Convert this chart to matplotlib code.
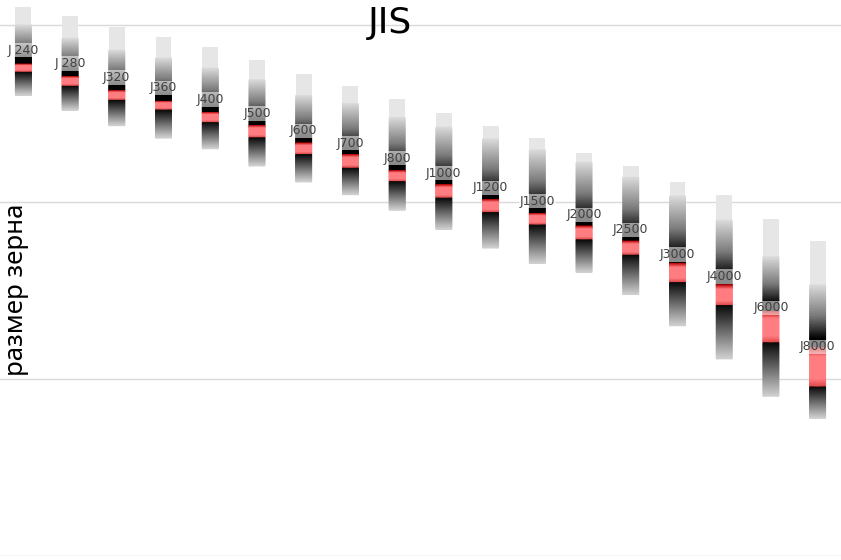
import numpy as np
import matplotlib
matplotlib.use("Agg")
import matplotlib.pyplot as plt
from matplotlib.colors import LinearSegmentedColormap

labels = ['J 240', 'J 280', 'J320', 'J360', 'J400', 'J500', 'J600', 'J700', 'J800',
          'J1000', 'J1200', 'J1500', 'J2000', 'J2500', 'J3000', 'J4000', 'J6000', 'J8000']
d_top = [127, 112, 98, 86, 75, 63, 53, 45, 38, 32, 27, 23, 19, 16, 13, 11, 8.0, 6.0]
d_fade = [100, 84, 72, 65, 57, 49, 40, 36, 30, 26.5, 22.7, 19.7, 16.8, 13.8, 10.8, 7.9, 4.9, 3.4]
d50 = [57, 48, 40, 35, 30, 25, 20, 17, 14, 11.5, 9.5, 8.0, 6.7, 5.5, 4.0, 3.0, 2.0, 1.2]
d50_tol = [3, 3, 2.5, 2, 2, 2, 1.5, 1.5, 1, 1, 0.8, 0.6, 0.6, 0.5, 0.5, 0.4, 0.4, 0.3]
d_bottom = [40, 33, 27, 23, 20, 16, 13, 11, 9.0, 7.0, 5.5, 4.5, 4.0, 3.0, 2.0, 1.3, 0.8, 0.6]

W, H = 841, 560
fig = plt.figure(figsize=(W / 100, H / 100), dpi=100)
ax = fig.add_axes([0, 4 / H, 1, 556 / H])
ax.set_yscale('log')
ax.set_ylim(0.1, 138.4)
ax.set_xlim(-0.5, len(labels) - 0.5)
for s in ax.spines.values():
    s.set_visible(False)
ax.set_xticks([])
ax.set_yticks([0.1, 1, 10, 100])
ax.yaxis.set_minor_locator(matplotlib.ticker.NullLocator())
ax.tick_params(axis='y', length=0, labelleft=False)
ax.grid(axis='y', color='#d9d9d9', linewidth=1.0)
ax.set_axisbelow(True)

grey_down = LinearSegmentedColormap.from_list('gd', [(0, '#dcdcdc'), (0.5, '#7a7a7a'), (0.86, '#000000'), (1, '#000000')])
grey_up = LinearSegmentedColormap.from_list('gu', [(0, '#0a0a0a'), (0.5, '#6e6e6e'), (1, '#d0d0d0')])
red_cm = LinearSegmentedColormap.from_list('rd', [(0, '#b80000'), (0.22, '#ff7c80'), (0.8, '#ff7c80'), (1, '#e04848')])

bw = 0.34
N = 40


def grad(xc, y0, y1, cmap):
    t = np.linspace(0, 1, N + 1)
    ys = np.exp(np.log(y0) + (np.log(y1) - np.log(y0)) * t)
    X, Y = np.meshgrid([xc - bw / 2, xc + bw / 2], ys)
    C = np.repeat(t[:, None], 2, axis=1)
    ax.pcolormesh(X, Y, C, cmap=cmap, vmin=0, vmax=1, shading='gouraud', zorder=3)


for i in range(len(labels)):
    ax.bar(i, d_top[i] - d_fade[i], bottom=d_fade[i], width=bw, color='#e6e6e6', zorder=3, linewidth=0)
    r_hi = d50[i] + d50_tol[i]
    r_lo = d50[i] - d50_tol[i]
    grad(i, d_fade[i], r_hi, grey_down)
    grad(i, r_hi, r_lo, red_cm)
    grad(i, r_lo, d_bottom[i], grey_up)
    ax.annotate(labels[i], (i, d50[i]), xytext=(0, 18), textcoords='offset pixels',
                ha='center', va='center', fontsize=9, color='#404040', family='DejaVu Sans',
                zorder=5,
                bbox=dict(boxstyle='square,pad=0.05', facecolor='white', alpha=0.55, edgecolor='none'))

fig.text(390 / W, 1 - 23 / H, 'JIS', ha='center', va='center', fontsize=26,
         family=['DejaVu Sans'], color='black')
fig.text(17 / W, 1 - 290 / H, 'размер зерна', ha='center', va='center', rotation=90,
         fontsize=18.6, family=['Noto Sans', 'DejaVu Sans'], color='black')

fig.savefig('out.png', dpi=100)
